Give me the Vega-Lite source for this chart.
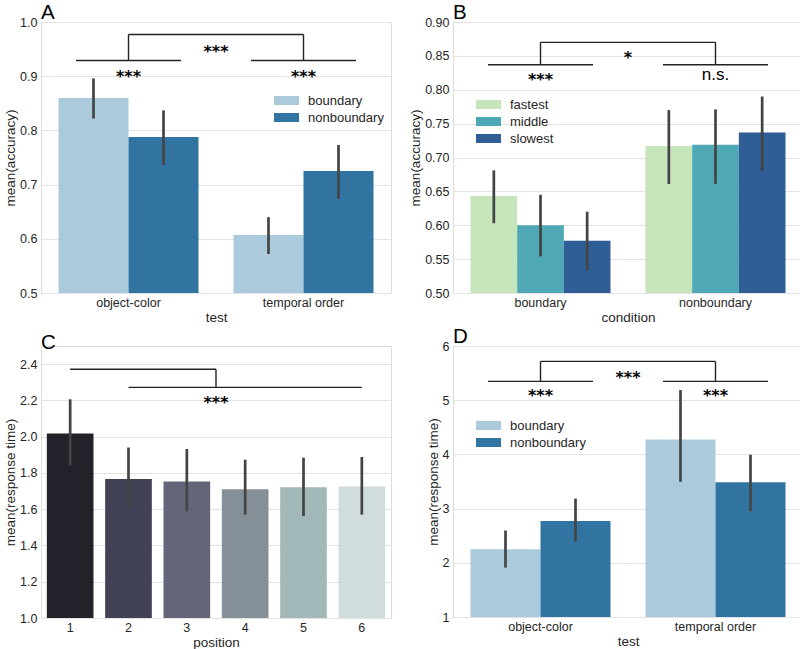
{
  "$schema": "https://vega.github.io/schema/vega-lite/v6.json",
  "padding": {"left": 3, "top": 2, "right": 0, "bottom": 0},
  "config": {
    "font": "Liberation Sans",
    "background": "white",
    "view": {"stroke": "#dcdcdc", "strokeWidth": 1},
    "axis": {"labelFont": "Liberation Sans", "labelFontSize": 12.5, "labelColor": "#262626", "titleFont": "Liberation Sans", "titleFontSize": 13.5, "titleFontWeight": "normal", "titleColor": "#262626", "domain": false, "ticks": false, "gridColor": "#e3e3e3", "gridWidth": 1, "labelOverlap": false, "tickCount": 20},
    "axisX": {"grid": false, "labelPadding": 3, "titlePadding": 1.5, "labelAngle": 0},
    "axisY": {"labelPadding": 4, "titlePadding": 2, "labelOverlap": false},
    "legend": {"labelFont": "Liberation Sans", "labelFontSize": 13, "labelColor": "#262626", "symbolType": "M-2,-0.72H2V0.72H-2Z", "symbolSize": 156, "symbolStrokeWidth": 0, "labelOffset": 15, "rowPadding": 3, "padding": 0},
    "title": {"font": "Liberation Sans", "fontSize": 20.5, "fontWeight": "normal", "anchor": "start", "frame": "group", "offset": -7, "color": "#000000"}
  },
  "datasets": {
    "accTest": [
      {"test": "object-color", "condition": "boundary", "mean": 0.860, "lo": 0.822, "hi": 0.896},
      {"test": "object-color", "condition": "nonboundary", "mean": 0.788, "lo": 0.736, "hi": 0.837},
      {"test": "temporal order", "condition": "boundary", "mean": 0.607, "lo": 0.572, "hi": 0.640},
      {"test": "temporal order", "condition": "nonboundary", "mean": 0.725, "lo": 0.674, "hi": 0.773}
    ],
    "accSpeed": [
      {"condition": "boundary", "speed": "fastest", "mean": 0.643, "lo": 0.603, "hi": 0.681},
      {"condition": "boundary", "speed": "middle", "mean": 0.600, "lo": 0.554, "hi": 0.645},
      {"condition": "boundary", "speed": "slowest", "mean": 0.577, "lo": 0.533, "hi": 0.620},
      {"condition": "nonboundary", "speed": "fastest", "mean": 0.717, "lo": 0.661, "hi": 0.770},
      {"condition": "nonboundary", "speed": "middle", "mean": 0.719, "lo": 0.661, "hi": 0.771},
      {"condition": "nonboundary", "speed": "slowest", "mean": 0.737, "lo": 0.680, "hi": 0.790}
    ],
    "rtPos": [
      {"position": 1, "mean": 2.017, "lo": 1.841, "hi": 2.206},
      {"position": 2, "mean": 1.766, "lo": 1.601, "hi": 1.940},
      {"position": 3, "mean": 1.753, "lo": 1.588, "hi": 1.932},
      {"position": 4, "mean": 1.710, "lo": 1.570, "hi": 1.873},
      {"position": 5, "mean": 1.721, "lo": 1.562, "hi": 1.884},
      {"position": 6, "mean": 1.725, "lo": 1.570, "hi": 1.888}
    ],
    "rtTest": [
      {"test": "object-color", "condition": "boundary", "mean": 2.25, "lo": 1.911, "hi": 2.595},
      {"test": "object-color", "condition": "nonboundary", "mean": 2.773, "lo": 2.392, "hi": 3.186},
      {"test": "temporal order", "condition": "boundary", "mean": 4.276, "lo": 3.494, "hi": 5.187},
      {"test": "temporal order", "condition": "nonboundary", "mean": 3.488, "lo": 2.952, "hi": 3.993}
    ],
    "sigA": [
      {"kind": "low", "test": "object-color", "y": 0.929},
      {"kind": "low", "test": "temporal order", "y": 0.929},
      {"kind": "top", "test": "object-color", "to": "temporal order", "y": 0.977},
      {"kind": "vert", "test": "object-color", "y": 0.929, "y2": 0.977},
      {"kind": "vert", "test": "temporal order", "y": 0.929, "y2": 0.977},
      {"kind": "star", "test": "object-color", "y": 0.908, "label": "***"},
      {"kind": "star", "test": "temporal order", "y": 0.908, "label": "***"},
      {"kind": "startop", "test": "object-color", "y": 0.953, "label": "***"}
    ],
    "sigB": [
      {"kind": "low", "condition": "boundary", "y": 0.837},
      {"kind": "low", "condition": "nonboundary", "y": 0.837},
      {"kind": "top", "condition": "boundary", "to": "nonboundary", "y": 0.870},
      {"kind": "vert", "condition": "boundary", "y": 0.837, "y2": 0.870},
      {"kind": "vert", "condition": "nonboundary", "y": 0.837, "y2": 0.870},
      {"kind": "star", "condition": "boundary", "y": 0.822, "label": "***"},
      {"kind": "ns", "condition": "nonboundary", "y": 0.822, "label": "n.s."},
      {"kind": "startop", "condition": "boundary", "y": 0.854, "label": "*"}
    ],
    "sigC": [
      {"kind": "top", "position": 1, "to": 3, "y": 2.372},
      {"kind": "low", "position": 2, "to": 6, "y": 2.272},
      {"kind": "vert", "position": 3, "y": 2.272, "y2": 2.372},
      {"kind": "startop", "position": 3, "y": 2.211, "label": "***"}
    ],
    "sigD": [
      {"kind": "low", "test": "object-color", "y": 5.347},
      {"kind": "low", "test": "temporal order", "y": 5.347},
      {"kind": "top", "test": "object-color", "to": "temporal order", "y": 5.717},
      {"kind": "vert", "test": "object-color", "y": 5.347, "y2": 5.717},
      {"kind": "vert", "test": "temporal order", "y": 5.347, "y2": 5.717},
      {"kind": "star", "test": "object-color", "y": 5.175, "label": "***"},
      {"kind": "star", "test": "temporal order", "y": 5.175, "label": "***"},
      {"kind": "startop", "test": "object-color", "y": 5.51, "label": "***"}
    ]
  },
  "columns": 2,
  "bounds": "flush",
  "spacing": {"row": 53, "column": 62},
  "resolve": {"scale": {"color": "independent", "xOffset": "independent"}, "legend": {"color": "independent"}},
  "concat": [
    {
      "title": "A",
      "width": 350,
      "height": 271,
      "data": {"name": "accTest"},
      "layer": [
        {
          "mark": {"type": "bar", "clip": true},
          "encoding": {
            "x": {"field": "test", "type": "nominal", "title": "test", "scale": {"paddingInner": 0.2, "paddingOuter": 0.1}},
            "xOffset": {"field": "condition", "type": "nominal", "scale": {"domain": ["boundary", "nonboundary"], "paddingInner": 0, "paddingOuter": 0}},
            "y": {"field": "mean", "type": "quantitative", "title": "mean(accuracy)", "scale": {"domain": [0.5, 1.0], "nice": false, "zero": false}, "axis": {"values": [0.5, 0.6, 0.7, 0.8, 0.9, 1.0], "format": ".1f", "labelOverlap": false, "tickCount": 20}},
            "color": {"field": "condition", "type": "nominal", "scale": {"domain": ["boundary", "nonboundary"], "range": ["#abcadc", "#3274a1"]}, "legend": {"title": null, "orient": "none", "legendX": 239, "legendY": 72}}
          }
        },
        {
          "mark": {"type": "rule", "color": "#444444", "strokeWidth": 2.7},
          "encoding": {
            "x": {"field": "test", "type": "nominal", "title": "test"},
            "xOffset": {"field": "condition", "type": "nominal"},
            "y": {"field": "lo", "type": "quantitative", "title": "mean(accuracy)"},
            "y2": {"field": "hi"}
          }
        },
        {
          "data": {"name": "sigA"},
          "transform": [{"filter": "datum.kind == 'low'"}],
          "mark": {"type": "rule", "strokeWidth": 1.4, "color": "#222222"},
          "encoding": {
            "x": {"field": "test", "type": "nominal", "title": "test", "bandPosition": 0.125},
            "x2": {"field": "test", "bandPosition": 0.875},
            "y": {"field": "y", "type": "quantitative", "title": "mean(accuracy)"}
          }
        },
        {
          "data": {"name": "sigA"},
          "transform": [{"filter": "datum.kind == 'top'"}],
          "mark": {"type": "rule", "strokeWidth": 1.4, "color": "#222222"},
          "encoding": {
            "x": {"field": "test", "type": "nominal", "title": "test", "bandPosition": 0.5},
            "x2": {"field": "to", "bandPosition": 0.5},
            "y": {"field": "y", "type": "quantitative", "title": "mean(accuracy)"}
          }
        },
        {
          "data": {"name": "sigA"},
          "transform": [{"filter": "datum.kind == 'vert'"}],
          "mark": {"type": "rule", "strokeWidth": 1.4, "color": "#222222"},
          "encoding": {
            "x": {"field": "test", "type": "nominal", "title": "test"},
            "y": {"field": "y", "type": "quantitative", "title": "mean(accuracy)"},
            "y2": {"field": "y2"}
          }
        },
        {
          "data": {"name": "sigA"},
          "transform": [{"filter": "datum.kind == 'star'"}],
          "mark": {"type": "text", "font": "DejaVu Sans", "fontWeight": "bold", "fontSize": 16, "baseline": "middle", "dy": 5, "color": "#000000"},
          "encoding": {
            "x": {"field": "test", "type": "nominal", "title": "test"},
            "y": {"field": "y", "type": "quantitative", "title": "mean(accuracy)"},
            "text": {"field": "label"}
          }
        },
        {
          "data": {"name": "sigA"},
          "transform": [{"filter": "datum.kind == 'startop'"}],
          "mark": {"type": "text", "font": "DejaVu Sans", "fontWeight": "bold", "fontSize": 16, "baseline": "middle", "dy": 5, "color": "#000000"},
          "encoding": {
            "x": {"field": "test", "type": "nominal", "title": "test", "bandPosition": 1.125},
            "y": {"field": "y", "type": "quantitative", "title": "mean(accuracy)"},
            "text": {"field": "label"}
          }
        }
      ]
    },
    {
      "title": "B",
      "width": 350,
      "height": 271,
      "data": {"name": "accSpeed"},
      "layer": [
        {
          "mark": {"type": "bar", "clip": true},
          "encoding": {
            "x": {"field": "condition", "type": "nominal", "title": "condition", "scale": {"paddingInner": 0.2, "paddingOuter": 0.1}},
            "xOffset": {"field": "speed", "type": "nominal", "scale": {"domain": ["fastest", "middle", "slowest"], "paddingInner": 0, "paddingOuter": 0}},
            "y": {"field": "mean", "type": "quantitative", "title": "mean(accuracy)", "scale": {"domain": [0.5, 0.9], "nice": false, "zero": false}, "axis": {"values": [0.5, 0.55, 0.6, 0.65, 0.7, 0.75, 0.8, 0.85, 0.9], "format": ".2f", "labelOverlap": false, "tickCount": 20}},
            "color": {"field": "speed", "type": "nominal", "scale": {"domain": ["fastest", "middle", "slowest"], "range": ["#c7e5bb", "#4fa8b5", "#2f5d95"]}, "legend": {"title": null, "orient": "none", "legendX": 29, "legendY": 76}}
          }
        },
        {
          "mark": {"type": "rule", "color": "#444444", "strokeWidth": 2.7},
          "encoding": {
            "x": {"field": "condition", "type": "nominal", "title": "condition"},
            "xOffset": {"field": "speed", "type": "nominal"},
            "y": {"field": "lo", "type": "quantitative", "title": "mean(accuracy)"},
            "y2": {"field": "hi"}
          }
        },
        {
          "data": {"name": "sigB"},
          "transform": [{"filter": "datum.kind == 'low'"}],
          "mark": {"type": "rule", "strokeWidth": 1.4, "color": "#222222"},
          "encoding": {
            "x": {"field": "condition", "type": "nominal", "title": "condition", "bandPosition": 0.125},
            "x2": {"field": "condition", "bandPosition": 0.875},
            "y": {"field": "y", "type": "quantitative", "title": "mean(accuracy)"}
          }
        },
        {
          "data": {"name": "sigB"},
          "transform": [{"filter": "datum.kind == 'top'"}],
          "mark": {"type": "rule", "strokeWidth": 1.4, "color": "#222222"},
          "encoding": {
            "x": {"field": "condition", "type": "nominal", "title": "condition", "bandPosition": 0.5},
            "x2": {"field": "to", "bandPosition": 0.5},
            "y": {"field": "y", "type": "quantitative", "title": "mean(accuracy)"}
          }
        },
        {
          "data": {"name": "sigB"},
          "transform": [{"filter": "datum.kind == 'vert'"}],
          "mark": {"type": "rule", "strokeWidth": 1.4, "color": "#222222"},
          "encoding": {
            "x": {"field": "condition", "type": "nominal", "title": "condition"},
            "y": {"field": "y", "type": "quantitative", "title": "mean(accuracy)"},
            "y2": {"field": "y2"}
          }
        },
        {
          "data": {"name": "sigB"},
          "transform": [{"filter": "datum.kind == 'star'"}],
          "mark": {"type": "text", "font": "DejaVu Sans", "fontWeight": "bold", "fontSize": 16, "baseline": "middle", "dy": 5, "color": "#000000"},
          "encoding": {
            "x": {"field": "condition", "type": "nominal", "title": "condition"},
            "y": {"field": "y", "type": "quantitative", "title": "mean(accuracy)"},
            "text": {"field": "label"}
          }
        },
        {
          "data": {"name": "sigB"},
          "transform": [{"filter": "datum.kind == 'ns'"}],
          "mark": {"type": "text", "font": "Liberation Sans", "fontSize": 17, "baseline": "middle", "dy": 0, "color": "#000000"},
          "encoding": {
            "x": {"field": "condition", "type": "nominal", "title": "condition"},
            "y": {"field": "y", "type": "quantitative", "title": "mean(accuracy)"},
            "text": {"field": "label"}
          }
        },
        {
          "data": {"name": "sigB"},
          "transform": [{"filter": "datum.kind == 'startop'"}],
          "mark": {"type": "text", "font": "DejaVu Sans", "fontWeight": "bold", "fontSize": 16, "baseline": "middle", "dy": 5, "color": "#000000"},
          "encoding": {
            "x": {"field": "condition", "type": "nominal", "title": "condition", "bandPosition": 1.125},
            "y": {"field": "y", "type": "quantitative", "title": "mean(accuracy)"},
            "text": {"field": "label"}
          }
        }
      ]
    },
    {
      "title": "C",
      "width": 350,
      "height": 272,
      "data": {"name": "rtPos"},
      "layer": [
        {
          "mark": {"type": "bar", "clip": true},
          "encoding": {
            "x": {"field": "position", "type": "ordinal", "title": "position", "scale": {"paddingInner": 0.2, "paddingOuter": 0.1}},
            "y": {"field": "mean", "type": "quantitative", "title": "mean(response time)", "scale": {"domain": [1.0, 2.5], "nice": false, "zero": false}, "axis": {"values": [1.0, 1.2, 1.4, 1.6, 1.8, 2.0, 2.2, 2.4], "format": ".1f", "labelOverlap": false, "tickCount": 20}},
            "color": {"field": "position", "type": "ordinal", "scale": {"range": ["#22222b", "#424257", "#636578", "#858f98", "#a3b8b9", "#d1dddd"]}, "legend": null}
          }
        },
        {
          "mark": {"type": "rule", "color": "#444444", "strokeWidth": 2.7},
          "encoding": {
            "x": {"field": "position", "type": "ordinal", "title": "position"},
            "y": {"field": "lo", "type": "quantitative", "title": "mean(response time)"},
            "y2": {"field": "hi"}
          }
        },
        {
          "data": {"name": "sigC"},
          "transform": [{"filter": "datum.kind == 'top'"}],
          "mark": {"type": "rule", "strokeWidth": 1.4, "color": "#222222"},
          "encoding": {
            "x": {"field": "position", "type": "ordinal", "title": "position", "bandPosition": 0.5},
            "x2": {"field": "to", "bandPosition": 1.125},
            "y": {"field": "y", "type": "quantitative", "title": "mean(response time)"}
          }
        },
        {
          "data": {"name": "sigC"},
          "transform": [{"filter": "datum.kind == 'low'"}],
          "mark": {"type": "rule", "strokeWidth": 1.4, "color": "#222222"},
          "encoding": {
            "x": {"field": "position", "type": "ordinal", "title": "position", "bandPosition": 0.5},
            "x2": {"field": "to", "bandPosition": 0.5},
            "y": {"field": "y", "type": "quantitative", "title": "mean(response time)"}
          }
        },
        {
          "data": {"name": "sigC"},
          "transform": [{"filter": "datum.kind == 'vert'"}],
          "mark": {"type": "rule", "strokeWidth": 1.4, "color": "#222222"},
          "encoding": {
            "x": {"field": "position", "type": "ordinal", "title": "position", "bandPosition": 1.125},
            "y": {"field": "y", "type": "quantitative", "title": "mean(response time)"},
            "y2": {"field": "y2"}
          }
        },
        {
          "data": {"name": "sigC"},
          "transform": [{"filter": "datum.kind == 'startop'"}],
          "mark": {"type": "text", "font": "DejaVu Sans", "fontWeight": "bold", "fontSize": 16, "baseline": "middle", "dy": 5, "color": "#000000"},
          "encoding": {
            "x": {"field": "position", "type": "ordinal", "title": "position", "bandPosition": 1.125},
            "y": {"field": "y", "type": "quantitative", "title": "mean(response time)"},
            "text": {"field": "label"}
          }
        }
      ]
    },
    {
      "title": "D",
      "width": 350,
      "height": 271,
      "data": {"name": "rtTest"},
      "layer": [
        {
          "mark": {"type": "bar", "clip": true},
          "encoding": {
            "x": {"field": "test", "type": "nominal", "title": "test", "scale": {"paddingInner": 0.2, "paddingOuter": 0.1}},
            "xOffset": {"field": "condition", "type": "nominal", "scale": {"domain": ["boundary", "nonboundary"], "paddingInner": 0, "paddingOuter": 0}},
            "y": {"field": "mean", "type": "quantitative", "title": "mean(response time)", "scale": {"domain": [1, 6], "nice": false, "zero": false}, "axis": {"values": [1, 2, 3, 4, 5, 6], "format": "d", "labelOverlap": false, "tickCount": 20}},
            "color": {"field": "condition", "type": "nominal", "scale": {"domain": ["boundary", "nonboundary"], "range": ["#abcadc", "#3274a1"]}, "legend": {"title": null, "orient": "none", "legendX": 29, "legendY": 73}}
          }
        },
        {
          "mark": {"type": "rule", "color": "#444444", "strokeWidth": 2.7},
          "encoding": {
            "x": {"field": "test", "type": "nominal", "title": "test"},
            "xOffset": {"field": "condition", "type": "nominal"},
            "y": {"field": "lo", "type": "quantitative", "title": "mean(response time)"},
            "y2": {"field": "hi"}
          }
        },
        {
          "data": {"name": "sigD"},
          "transform": [{"filter": "datum.kind == 'low'"}],
          "mark": {"type": "rule", "strokeWidth": 1.4, "color": "#222222"},
          "encoding": {
            "x": {"field": "test", "type": "nominal", "title": "test", "bandPosition": 0.125},
            "x2": {"field": "test", "bandPosition": 0.875},
            "y": {"field": "y", "type": "quantitative", "title": "mean(response time)"}
          }
        },
        {
          "data": {"name": "sigD"},
          "transform": [{"filter": "datum.kind == 'top'"}],
          "mark": {"type": "rule", "strokeWidth": 1.4, "color": "#222222"},
          "encoding": {
            "x": {"field": "test", "type": "nominal", "title": "test", "bandPosition": 0.5},
            "x2": {"field": "to", "bandPosition": 0.5},
            "y": {"field": "y", "type": "quantitative", "title": "mean(response time)"}
          }
        },
        {
          "data": {"name": "sigD"},
          "transform": [{"filter": "datum.kind == 'vert'"}],
          "mark": {"type": "rule", "strokeWidth": 1.4, "color": "#222222"},
          "encoding": {
            "x": {"field": "test", "type": "nominal", "title": "test"},
            "y": {"field": "y", "type": "quantitative", "title": "mean(response time)"},
            "y2": {"field": "y2"}
          }
        },
        {
          "data": {"name": "sigD"},
          "transform": [{"filter": "datum.kind == 'star'"}],
          "mark": {"type": "text", "font": "DejaVu Sans", "fontWeight": "bold", "fontSize": 16, "baseline": "middle", "dy": 5, "color": "#000000"},
          "encoding": {
            "x": {"field": "test", "type": "nominal", "title": "test"},
            "y": {"field": "y", "type": "quantitative", "title": "mean(response time)"},
            "text": {"field": "label"}
          }
        },
        {
          "data": {"name": "sigD"},
          "transform": [{"filter": "datum.kind == 'startop'"}],
          "mark": {"type": "text", "font": "DejaVu Sans", "fontWeight": "bold", "fontSize": 16, "baseline": "middle", "dy": 5, "color": "#000000"},
          "encoding": {
            "x": {"field": "test", "type": "nominal", "title": "test", "bandPosition": 1.125},
            "y": {"field": "y", "type": "quantitative", "title": "mean(response time)"},
            "text": {"field": "label"}
          }
        }
      ]
    }
  ]
}
